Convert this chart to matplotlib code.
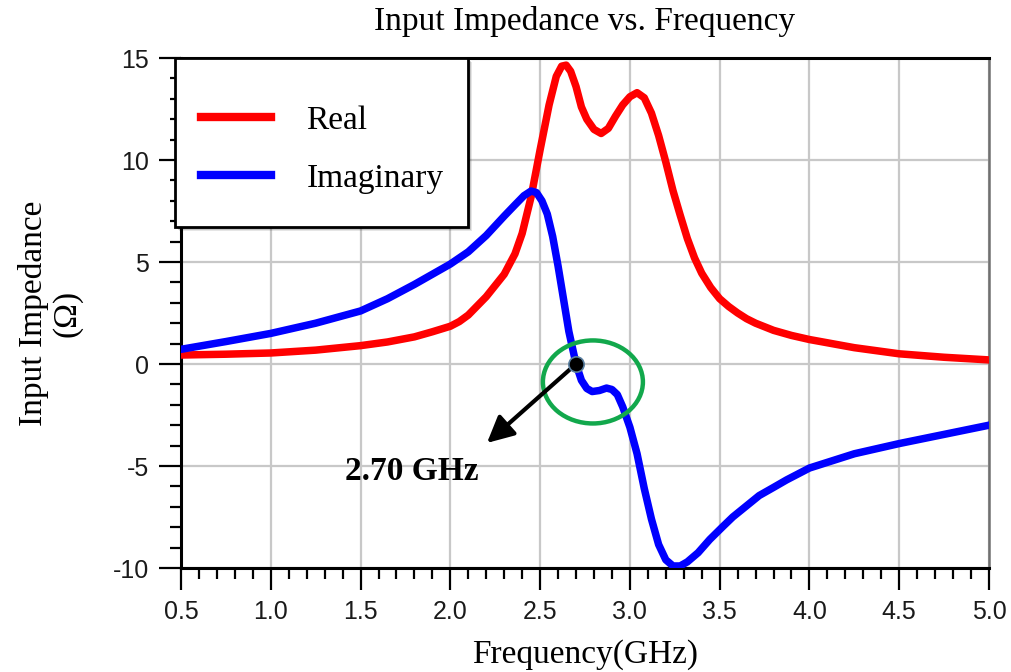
"""Input impedance (real / imaginary) versus frequency."""

import matplotlib

matplotlib.use("Agg")

import matplotlib.pyplot as plt
from matplotlib.patches import Ellipse, Rectangle

# frequency samples (GHz) and impedance (ohm)
freq_real = [0.5, 0.75, 1.0, 1.25, 1.5, 1.65, 1.8, 1.9, 2.0, 2.05, 2.1, 2.2, 2.3,
             2.36, 2.40, 2.45, 2.50, 2.55, 2.59, 2.62, 2.645, 2.67, 2.70, 2.73,
             2.76, 2.80, 2.84, 2.88, 2.92, 2.96, 3.00, 3.04, 3.08, 3.12, 3.16,
             3.20, 3.24, 3.28, 3.32, 3.36, 3.40, 3.45, 3.50, 3.55, 3.60, 3.65,
             3.70, 3.80, 3.90, 4.00, 4.25, 4.50, 4.75, 5.0]
z_real = [0.44, 0.48, 0.54, 0.68, 0.9, 1.08, 1.33, 1.58, 1.85, 2.08, 2.4, 3.3, 4.4,
          5.4, 6.4, 8.2, 10.5, 12.7, 14.1, 14.6, 14.65, 14.35, 13.6, 12.6,
          12.0, 11.5, 11.3, 11.55, 12.15, 12.7, 13.1, 13.3, 13.05, 12.3, 11.2,
          9.9, 8.5, 7.3, 6.15, 5.2, 4.45, 3.75, 3.2, 2.82, 2.5, 2.22,
          2.0, 1.65, 1.4, 1.2, 0.8, 0.5, 0.33, 0.2]

freq_imag = [0.5, 0.75, 1.0, 1.25, 1.5, 1.65, 1.8, 1.9, 2.0, 2.1, 2.2, 2.3, 2.36,
             2.41, 2.45, 2.48, 2.51, 2.54, 2.57, 2.60, 2.63, 2.66, 2.70, 2.73,
             2.76, 2.79, 2.83, 2.87, 2.90, 2.93, 2.96, 3.00, 3.04, 3.08, 3.12,
             3.16, 3.20, 3.24, 3.28, 3.32, 3.38, 3.445, 3.52, 3.573, 3.65, 3.72,
             3.80, 3.873, 4.0, 4.25, 4.5, 4.75, 5.0]
z_imag = [0.72, 1.1, 1.5, 2.0, 2.6, 3.2, 3.9, 4.4, 4.9, 5.5, 6.3, 7.25, 7.8,
          8.25, 8.48, 8.4, 8.0, 7.35, 6.25, 4.8, 3.2, 1.6, 0.0, -0.8,
          -1.2, -1.35, -1.3, -1.18, -1.25, -1.5, -2.1, -3.1, -4.4, -6.1, -7.6,
          -8.85, -9.6, -9.9, -9.9, -9.7, -9.25, -8.6, -7.95, -7.5, -6.95, -6.45,
          -6.05, -5.68, -5.1, -4.4, -3.9, -3.45, -3.0]

marker_freq = 2.70
marker_value = 0.0
marker_label = "2.70 GHz"

x_ticks = [0.5, 1.0, 1.5, 2.0, 2.5, 3.0, 3.5, 4.0, 4.5, 5.0]
y_ticks = [-10, -5, 0, 5, 10, 15]

SERIF = "Liberation Serif"
SANS = "Liberation Sans"

fig = plt.figure(figsize=(10.12, 6.72), dpi=100)
ax = fig.add_axes([181 / 1012, 1 - 568 / 672, 808 / 1012, 510 / 672])

line_real, = ax.plot(freq_real, z_real, color="#ff0000", linewidth=5.4,
                     solid_joinstyle="round", label="Real", zorder=3)
line_imag, = ax.plot(freq_imag, z_imag, color="#0000ff", linewidth=5.4,
                     solid_joinstyle="round", label="Imaginary", zorder=3)

ax.set_xlim(0.5, 5.0)
ax.set_ylim(-10, 15)
ax.set_xticks(x_ticks)
ax.set_xticklabels([f"{t:.1f}" for t in x_ticks])
ax.set_yticks(y_ticks)
ax.set_yticklabels([str(t) for t in y_ticks])
ax.set_xticks([0.5 + 0.1 * i for i in range(46)], minor=True)
ax.set_yticks(list(range(-10, 16)), minor=True)

ax.grid(True, which="major", color="#c8c8c8", linewidth=1.6, zorder=0)
ax.set_axisbelow(True)

ax.tick_params(which="major", direction="out", length=16, width=1.6,
               color="black", labelsize=18, pad=7)
ax.tick_params(which="minor", direction="out", length=8, width=1.6, color="black")
for lab in ax.get_xticklabels() + ax.get_yticklabels():
    lab.set_fontfamily(SANS)
    lab.set_color("#1a1a1a")

for side in ("left", "bottom", "top"):
    ax.spines[side].set_linewidth(2.2)
    ax.spines[side].set_color("black")
ax.spines["right"].set_linewidth(1.8)
ax.spines["right"].set_color("#707070")

ax.set_title("Input Impedance vs. Frequency", fontfamily=SERIF, fontsize=24, pad=20)
ax.set_xlabel("Frequency(GHz)", fontfamily=SERIF, fontsize=24, labelpad=11)
ax.set_ylabel("Input Impedance\n(\u03a9)", fontfamily=SERIF, fontsize=24,
              labelpad=22, linespacing=1.1)

# highlighted zero crossing of the reactance
ax.add_patch(Ellipse((2.794, -0.88), width=0.557, height=4.07, fill=False,
                     edgecolor="#12a84c", linewidth=3.2, zorder=4))
ax.annotate("", xy=(2.204, -3.87), xytext=(marker_freq, marker_value),
            arrowprops=dict(arrowstyle="-|>,head_length=0.8,head_width=0.4",
                            mutation_scale=20, color="black", linewidth=3,
                            shrinkA=0, shrinkB=0),
            zorder=5)
ax.plot([marker_freq], [marker_value], marker="o", markersize=11,
        markerfacecolor="black", markeredgecolor="#5a7fa0", markeredgewidth=1.2,
        zorder=6)
ax.text(1.786, -5.29, marker_label, fontfamily=SERIF, fontsize=24,
        fontweight="bold", ha="center", va="center", zorder=6)

# legend box with a soft drop shadow
box_x0, box_y0 = 175 / 1012, 1 - 227 / 672
box_w, box_h = 293 / 1012, 169 / 672
for k, alpha in enumerate([0.10, 0.14, 0.18]):
    off = (4 - k) / 1012
    fig.add_artist(Rectangle((box_x0 + off, box_y0 - off * 1012 / 672), box_w, box_h,
                             transform=fig.transFigure, facecolor="black",
                             edgecolor="none", alpha=alpha, zorder=7))
fig.add_artist(Rectangle((box_x0, box_y0), box_w, box_h, transform=fig.transFigure,
                         facecolor="white", edgecolor="black", linewidth=2,
                         zorder=8))
leg = fig.legend(handles=[line_real, line_imag], loc="upper left",
                 bbox_to_anchor=(188 / 1012, 1 - 92 / 672), frameon=False,
                 prop={"family": SERIF, "size": 24}, handlelength=2.1,
                 handletextpad=1.05, labelspacing=0.82, borderaxespad=0)
leg.set_zorder(9)
for h in leg.legend_handles:
    h.set_linewidth(6)

fig.savefig("out.png", dpi=100)
